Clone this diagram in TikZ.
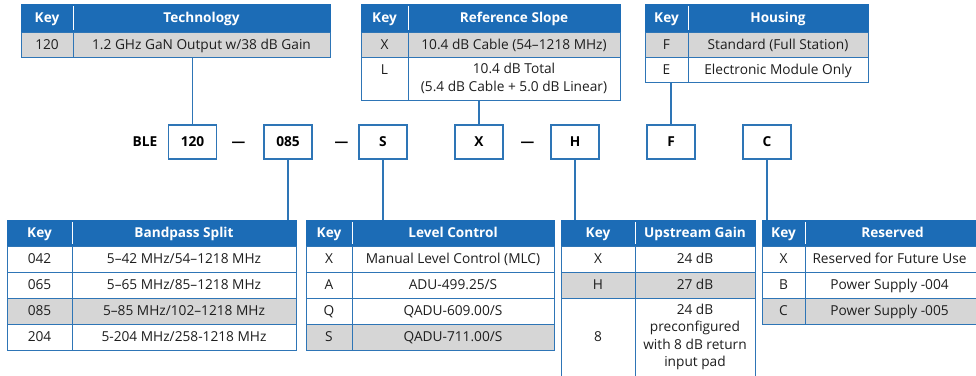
\documentclass[tikz,border=0pt]{standalone}
\usepackage{fontspec}
\setmainfont{Open Sans}
\definecolor{hblue}{RGB}{28,108,182}
\definecolor{lblue}{RGB}{46,117,182}
\definecolor{gcell}{RGB}{214,214,214}
\definecolor{txt}{RGB}{30,30,30}
\newcommand\tc[7]{\node[#6, anchor=north west, minimum width={(#4-#2)*1pt}, minimum height={(#5-#3)*1pt}] (#1) at (#2,#3) {#7};}
\newcommand\hdiv[1]{\draw[white, line width=0.8pt] ([yshift=-2pt]#1.north east) -- ([yshift=2pt]#1.south east);}
\tikzset{
  cellm/.style={draw=lblue, fill=white, line width=1pt, inner sep=0pt, outer sep=0pt, text=txt, font=\fontsize{13.7}{17.5}\selectfont, align=center},
  cellw/.style={cellm, text height=9.8pt, text depth=0pt},
  cellg/.style={cellw, fill=gcell},
  hdr/.style={draw=hblue, fill=hblue, line width=1pt, inner sep=0pt, outer sep=0pt, text=white, font=\bfseries\fontsize{13.6}{15}\selectfont, text height=9.8pt, text depth=0pt},
  codebox/.style={draw=lblue, fill=white, line width=1.2pt, inner sep=0pt, outer sep=0pt, minimum width=48pt, minimum height=34pt, text=black, font=\bfseries\fontsize{13.7}{15}\selectfont, text height=9.8pt, text depth=0pt},
  plain/.style={inner sep=0pt, text=black, font=\bfseries\fontsize{13.7}{15}\selectfont, text height=9.8pt, text depth=0pt},
  conn/.style={draw=lblue, line width=1.6pt}
}
\begin{document}
\begin{tikzpicture}[x=1pt,y=-1pt]
\useasboundingbox[fill=white] (0,0) rectangle (976,375);
% Technology
\tc{techK}{21}{4}{73}{32}{hdr}{Key}
\tc{techD}{73}{4}{330}{32}{hdr}{Technology}
\hdiv{techK}
\tc{techAk}{21}{32}{73}{57}{cellg}{120}
\tc{techAd}{73}{32}{330}{57}{cellg}{1.2 GHz GaN Output w/38 dB Gain}
% Reference slope
\tc{slK}{361}{4}{408}{32}{hdr}{Key}
\tc{slD}{408}{4}{620}{32}{hdr}{Reference Slope}
\hdiv{slK}
\tc{slXk}{361}{32}{408}{57}{cellg}{X}
\tc{slXd}{408}{32}{620}{57}{cellg}{10.4 dB Cable (54–1218 MHz)}
\tc{slLk}{361}{57}{408}{100}{cellm}{}
\tc{slLd}{408}{57}{620}{100}{cellm}{10.4 dB Total\\(5.4 dB Cable + 5.0 dB Linear)}
\node[cellw, draw=none, fill=none] (slLkey) at (384.5,70) {L};
% Housing
\tc{hoK}{645}{4}{688}{32}{hdr}{Key}
\tc{hoD}{688}{4}{868}{32}{hdr}{Housing}
\hdiv{hoK}
\tc{hoFk}{645}{32}{688}{57}{cellg}{F}
\tc{hoFd}{688}{32}{868}{57}{cellg}{Standard (Full Station)}
\tc{hoEk}{645}{57}{688}{82}{cellw}{E}
\tc{hoEd}{688}{57}{868}{82}{cellw}{Electronic Module Only}
% Bandpass split
\tc{bpK}{7}{220}{72}{246}{hdr}{Key}
\tc{bpD}{72}{220}{296}{246}{hdr}{Bandpass Split}
\hdiv{bpK}
\tc{bpAk}{7}{246}{72}{272}{cellw}{042}
\tc{bpAd}{72}{246}{296}{272}{cellw}{5–42 MHz/54–1218 MHz}
\tc{bpBk}{7}{272}{72}{298}{cellw}{065}
\tc{bpBd}{72}{272}{296}{298}{cellw}{5–65 MHz/85–1218 MHz}
\tc{bpCk}{7}{298}{72}{324}{cellg}{085}
\tc{bpCd}{72}{298}{296}{324}{cellg}{5–85 MHz/102–1218 MHz}
\tc{bpDk}{7}{324}{72}{350}{cellw}{204}
\tc{bpDd}{72}{324}{296}{350}{cellw}{5-204 MHz/258-1218 MHz}
% Level control
\tc{lcK}{306}{220}{352}{246}{hdr}{Key}
\tc{lcD}{352}{220}{554}{246}{hdr}{Level Control}
\hdiv{lcK}
\tc{lcAk}{306}{246}{352}{272}{cellw}{X}
\tc{lcAd}{352}{246}{554}{272}{cellw}{Manual Level Control (MLC)}
\tc{lcBk}{306}{272}{352}{298}{cellw}{A}
\tc{lcBd}{352}{272}{554}{298}{cellw}{ADU-499.25/S}
\tc{lcCk}{306}{298}{352}{324}{cellw}{Q}
\tc{lcCd}{352}{298}{554}{324}{cellw}{QADU-609.00/S}
\tc{lcDk}{306}{324}{352}{350}{cellg}{S}
\tc{lcDd}{352}{324}{554}{350}{cellg}{QADU-711.00/S}
% Upstream gain
\tc{ugK}{561}{220}{635}{246}{hdr}{Key}
\tc{ugD}{635}{220}{755}{246}{hdr}{Upstream Gain}
\hdiv{ugK}
\tc{ugAk}{561}{246}{635}{272}{cellw}{X}
\tc{ugAd}{635}{246}{755}{272}{cellw}{24 dB}
\tc{ugBk}{561}{272}{635}{298}{cellg}{H}
\tc{ugBd}{635}{272}{755}{298}{cellg}{27 dB}
\tc{ugCk}{561}{298}{635}{376}{cellm}{8}
\tc{ugCd}{635}{298}{755}{376}{cellm}{24 dB\\preconfigured\\with 8 dB return\\input pad}
% Reserved
\tc{rsK}{762}{220}{805}{246}{hdr}{Key}
\tc{rsD}{805}{220}{980}{246}{hdr}{Reserved}
\hdiv{rsK}
\tc{rsAk}{762}{246}{805}{272}{cellw}{X}
\tc{rsAd}{805}{246}{980}{272}{cellw}{\hspace*{-6pt}Reserved for Future Use}
\tc{rsBk}{762}{272}{805}{298}{cellw}{B}
\tc{rsBd}{805}{272}{980}{298}{cellw}{\hspace*{-6pt}Power Supply -004}
\tc{rsCk}{762}{298}{805}{324}{cellg}{C}
\tc{rsCd}{805}{298}{980}{324}{cellg}{\hspace*{-6pt}Power Supply -005}
% Code row
\node[plain] (ble) at (145,142) {BLE};
\node[codebox] (b120) at (192.5,142) {120};
\node[plain] (d1) at (238.5,142) {—};
\node[codebox] (b085) at (288,142) {085};
\node[plain] (d2) at (341.5,142) {—};
\node[codebox] (bS) at (383,142) {S};
\node[codebox] (bX) at (479,142) {X};
\node[plain] (d3) at (527.5,142) {—};
\node[codebox] (bH) at (575,142) {H};
\node[codebox] (bF) at (671,142) {F};
\node[codebox] (bC) at (767,142) {C};
% Connectors
\draw[conn] (b120.north) -- (b120.north |- techAd.south);
\draw[conn] (bX.north) -- (bX.north |- slLd.south);
\draw[conn] (bF.north) -- (bF.north |- hoEk.south);
\draw[conn] (b085.south) -- (b085.south |- bpD.north);
\draw[conn] (bS.south) -- (bS.south |- lcD.north);
\draw[conn] (bH.south) -- (bH.south |- ugK.north);
\draw[conn] (bC.south) -- (bC.south |- rsK.north);
\end{tikzpicture}
\end{document}
